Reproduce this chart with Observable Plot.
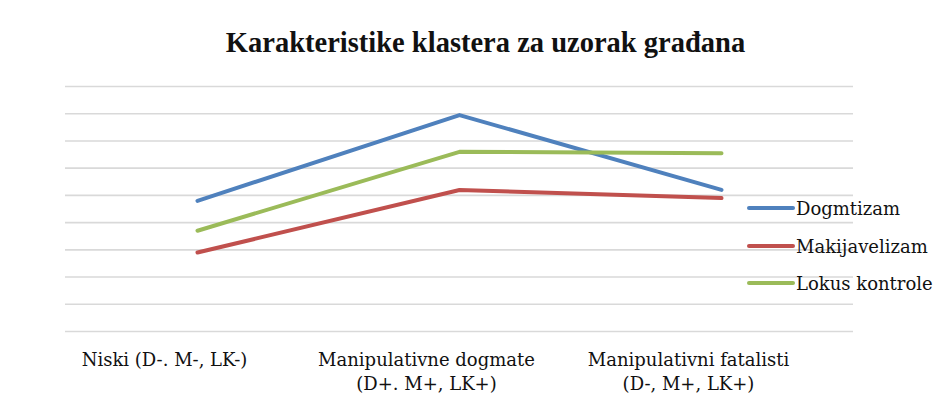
<!DOCTYPE html>
<html><head><meta charset="utf-8">
<script src="https://cdn.jsdelivr.net/npm/d3@7"></script>
<script src="https://cdn.jsdelivr.net/npm/@observablehq/plot@0.6"></script>
<style>
body{margin:0;background:#fff;}
#wrap{position:relative;width:947px;height:420px;overflow:hidden;background:#fff;}
#title{position:absolute;left:0;top:25px;width:947px;padding-left:24px;box-sizing:border-box;text-align:center;
  font-family:"Liberation Serif",serif;font-weight:bold;font-size:28.5px;line-height:36px;color:#111;}
#chart{position:absolute;left:0;top:0;}
#legend{position:absolute;left:747px;top:0;font-family:"DejaVu Serif",serif;font-size:18px;color:#111;}
.item{position:absolute;left:0;display:flex;align-items:center;white-space:nowrap;height:24px;}
.item svg{margin-right:1px;}
</style></head><body>
<div id="wrap"><div id="chart"></div><div id="title">Karakteristike klastera za uzorak građana</div><div id="legend"></div></div>
<script>
const categories = ["Niski (D-. M-, LK-)", "Manipulativne dogmate (D+. M+, LK+)", "Manipulativni fatalisti (D-, M+, LK+)"];
const tickLabels = ["Niski (D-. M-, LK-)", "Manipulativne dogmate\n(D+. M+, LK+)", "Manipulativni fatalisti\n(D-, M+, LK+)"];
const seriesNames = ["Dogmtizam", "Makijavelizam", "Lokus kontrole"];
const dogmatizam = [4.8, 7.95, 5.2];
const makijavelizam = [2.9, 5.2, 4.9];
const lokusKontrole = [3.7, 6.6, 6.55];
const seriesColors = ["#4F81BD", "#C0504D", "#9BBB59"];
const gridTicks = [0, 1, 2, 3, 4, 5, 6, 7, 8, 9];

const seriesValues = [dogmatizam, makijavelizam, lokusKontrole];
const data = [];
seriesNames.forEach((s, si) => categories.forEach((c, ci) => data.push({series: s, cat: c, value: seriesValues[si][ci]})));
const labelOf = new Map(categories.map((c, i) => [c, tickLabels[i]]));

const chart = Plot.plot({
  width: 947, height: 420,
  marginTop: 86, marginBottom: 89, marginLeft: 65, marginRight: 94,
  x: {type: "point", domain: categories, padding: 0.5, axis: null},
  y: {domain: [0, 9], axis: null},
  color: {domain: seriesNames, range: seriesColors},
  style: {background: "transparent"},
  marks: [
    Plot.ruleY(gridTicks, {stroke: "#d9d9d9", strokeWidth: 1.6}),
    Plot.line(data, {x: "cat", y: "value", z: "series", stroke: "series", strokeWidth: 4, strokeLinecap: "round", strokeLinejoin: "round"}),
    Plot.text(categories, {x: d => d, text: d => labelOf.get(d), frameAnchor: "bottom", lineAnchor: "top", dy: 17, dx: -33,
      fontFamily: "DejaVu Serif, serif", fontSize: 18, fill: "#111", lineHeight: 1.35})
  ]
});
document.getElementById("chart").appendChild(chart);

const legend = document.getElementById("legend");
const ys = [208, 246, 283];
seriesNames.forEach((s, i) => {
  const item = document.createElement("div");
  item.className = "item";
  item.style.top = (ys[i] - 12) + "px";
  item.innerHTML = `<svg width="48" height="6"><line x1="2" y1="3" x2="46" y2="3" stroke="${seriesColors[i]}" stroke-width="4" stroke-linecap="round"/></svg><span>${s}</span>`;
  legend.appendChild(item);
});
</script>
</body></html>
